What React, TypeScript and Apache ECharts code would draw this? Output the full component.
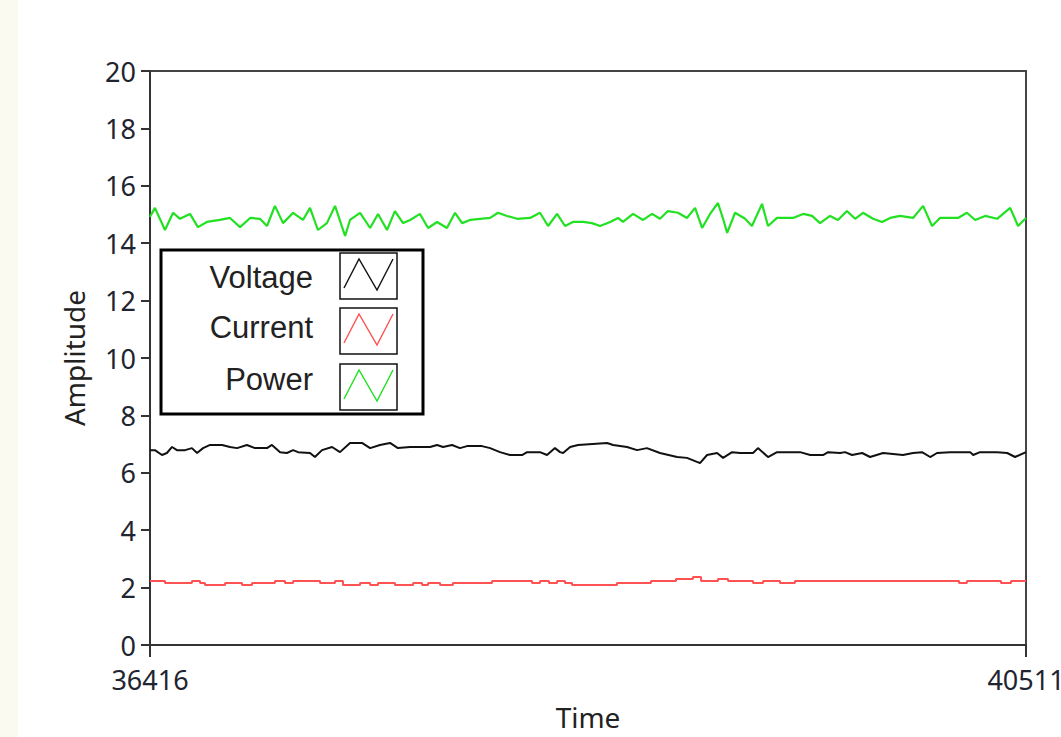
import React, { useEffect, useRef } from "react";
import * as echarts from "echarts";

const SERIES_NAMES = ["Voltage", "Current", "Power"];
const SERIES_COLORS = ["#111111", "#ff5252", "#22e022"];
const X_TICKS = [36416, 40511];
const Y_MIN = 0;
const Y_MAX = 20;
const Y_STEP = 2;

const POWER: [number, number][] = [
  [36416, 14.92], [36439, 15.23], [36486, 14.46], [36524, 15.06], [36556, 14.85],
  [36603, 15.02], [36640, 14.56], [36682, 14.74], [36743, 14.81], [36790, 14.88],
  [36837, 14.56], [36884, 14.88], [36930, 14.85], [36963, 14.6], [37000, 15.3],
  [37038, 14.7], [37085, 15.06], [37131, 14.81], [37164, 15.23], [37201, 14.46],
  [37243, 14.7], [37281, 15.3], [37328, 14.25], [37351, 14.81], [37398, 15.06],
  [37445, 14.53], [37482, 15.02], [37524, 14.46], [37561, 15.12], [37599, 14.7],
  [37632, 14.81], [37678, 15.02], [37716, 14.53], [37758, 14.74], [37804, 14.53],
  [37842, 15.06], [37875, 14.7], [37912, 14.81], [37959, 14.85], [38006, 14.88],
  [38043, 15.06], [38085, 14.95], [38132, 14.85], [38193, 14.88], [38239, 15.06],
  [38277, 14.6], [38319, 15.02], [38356, 14.6], [38393, 14.74], [38440, 14.74],
  [38482, 14.7], [38520, 14.6], [38567, 14.74], [38604, 14.88], [38627, 14.74],
  [38674, 15.02], [38721, 14.81], [38763, 15.02], [38800, 14.85], [38837, 15.12],
  [38884, 15.06], [38926, 14.88], [38964, 15.23], [38997, 14.53], [39034, 15.02],
  [39071, 15.4], [39095, 14.85], [39114, 14.36], [39151, 15.06], [39198, 14.85],
  [39230, 14.6], [39277, 15.37], [39305, 14.6], [39347, 14.88], [39422, 14.88],
  [39469, 15.02], [39511, 14.95], [39548, 14.7], [39595, 14.95], [39632, 14.81],
  [39674, 15.12], [39712, 14.85], [39749, 15.06], [39796, 14.85], [39838, 14.74],
  [39876, 14.88], [39922, 14.95], [39983, 14.88], [40030, 15.3], [40072, 14.6],
  [40109, 14.88], [40156, 14.88], [40193, 14.88], [40235, 15.06], [40273, 14.81],
  [40320, 14.95], [40376, 14.85], [40437, 15.23], [40474, 14.6], [40511, 14.88],
];

const VOLTAGE: [number, number][] = [
  [36416, 6.79], [36439, 6.79], [36472, 6.62], [36495, 6.69], [36519, 6.9],
  [36542, 6.79], [36580, 6.79], [36612, 6.86], [36636, 6.69], [36664, 6.86],
  [36697, 6.97], [36753, 6.97], [36790, 6.9], [36823, 6.86], [36869, 6.97],
  [36907, 6.86], [36963, 6.86], [36986, 6.97], [37024, 6.72], [37056, 6.69],
  [37085, 6.79], [37108, 6.72], [37164, 6.69], [37187, 6.55], [37220, 6.79],
  [37267, 6.9], [37304, 6.72], [37351, 7.04], [37407, 7.04], [37445, 6.86],
  [37491, 6.97], [37538, 7.04], [37575, 6.86], [37632, 6.9], [37692, 6.9],
  [37725, 6.9], [37758, 6.97], [37786, 6.9], [37828, 6.97], [37865, 6.86],
  [37898, 6.93], [37968, 6.93], [38006, 6.86], [38052, 6.72], [38099, 6.62],
  [38155, 6.62], [38179, 6.72], [38239, 6.72], [38272, 6.62], [38309, 6.86],
  [38333, 6.72], [38347, 6.69], [38380, 6.9], [38417, 6.97], [38553, 7.04],
  [38581, 6.97], [38646, 6.9], [38693, 6.79], [38739, 6.86], [38800, 6.69],
  [38880, 6.55], [38926, 6.52], [38973, 6.38], [38987, 6.34], [39020, 6.62],
  [39067, 6.69], [39095, 6.52], [39137, 6.72], [39174, 6.69], [39235, 6.69],
  [39258, 6.86], [39305, 6.55], [39347, 6.72], [39455, 6.72], [39502, 6.62],
  [39562, 6.62], [39586, 6.72], [39642, 6.69], [39665, 6.72], [39698, 6.62],
  [39745, 6.69], [39782, 6.55], [39843, 6.69], [39936, 6.62], [39983, 6.69],
  [40025, 6.72], [40063, 6.55], [40095, 6.69], [40156, 6.72], [40250, 6.72],
  [40264, 6.62], [40296, 6.72], [40376, 6.72], [40423, 6.69], [40460, 6.55],
  [40511, 6.72],
];

const CURRENT: [number, number][] = [
  [36416, 2.23], [36486, 2.16], [36612, 2.23], [36650, 2.16], [36673, 2.09],
  [36767, 2.16], [36846, 2.09], [36893, 2.16], [37000, 2.23], [37047, 2.16],
  [37085, 2.23], [37211, 2.16], [37281, 2.23], [37318, 2.09], [37398, 2.16],
  [37445, 2.09], [37482, 2.16], [37561, 2.09], [37646, 2.16], [37688, 2.09],
  [37716, 2.16], [37772, 2.09], [37832, 2.16], [38015, 2.23], [38202, 2.16],
  [38239, 2.23], [38281, 2.16], [38319, 2.23], [38356, 2.16], [38389, 2.09],
  [38599, 2.16], [38758, 2.23], [38875, 2.3], [38954, 2.37], [38992, 2.23],
  [39071, 2.3], [39118, 2.23], [39235, 2.16], [39282, 2.23], [39361, 2.16],
  [39431, 2.23], [40198, 2.16], [40235, 2.23], [40394, 2.16], [40441, 2.23],
  [40511, 2.23],
];

const SERIES_DATA = [VOLTAGE, CURRENT, POWER];

function legendGraphic() {
  const left = 161;
  const top = 250;
  const boxTops = [253, 308, 364];
  const textYs = [277, 327, 379];
  const children: any[] = [
    {
      type: "rect",
      shape: { x: left, y: top, width: 262, height: 164 },
      style: { fill: "#ffffff", stroke: "#000000", lineWidth: 3 },
    },
  ];
  SERIES_NAMES.forEach((name, i) => {
    const by = boxTops[i];
    children.push({
      type: "text",
      x: 313,
      y: textYs[i],
      style: {
        text: name,
        fill: "#222222",
        font: '31px "Liberation Sans", Arial, sans-serif',
        textAlign: "right",
        textVerticalAlign: "middle",
      },
    });
    children.push({
      type: "rect",
      shape: { x: 340, y: by, width: 57, height: 46 },
      style: { fill: "#ffffff", stroke: "#111111", lineWidth: 1.5 },
    });
    children.push({
      type: "polyline",
      shape: {
        points: [
          [344, by + 35],
          [359, by + 6],
          [377, by + 37],
          [393, by + 6],
        ],
      },
      style: { stroke: SERIES_COLORS[i], lineWidth: 1.4, fill: "none" },
    });
  });
  return children;
}

export default function App() {
  const ref = useRef<HTMLDivElement>(null);
  useEffect(() => {
    if (!ref.current) return;
    const chart = echarts.init(ref.current, undefined, { renderer: "svg" });
    const tickFont = '"Noto Sans", "Open Sans", sans-serif';
    chart.setOption({
      animation: false,
      backgroundColor: "#ffffff",
      grid: {
        left: 150,
        top: 71,
        width: 876,
        height: 574,
        outerBoundsMode: "none",
        containLabel: false,
        show: true,
        borderColor: "#444444",
        borderWidth: 2,
        backgroundColor: "#ffffff",
      },
      xAxis: {
        type: "value",
        min: X_TICKS[0],
        max: X_TICKS[X_TICKS.length - 1],
        name: "Time",
        nameLocation: "middle",
        nameGap: 58,
        nameTextStyle: { fontSize: 28, color: "#222222", fontFamily: tickFont },
        axisLine: { show: true, lineStyle: { color: "#333333", width: 2 } },
        axisTick: {
          show: true,
          customValues: X_TICKS,
          length: 12,
          inside: false,
          lineStyle: { color: "#333333", width: 2 },
        },
        axisLabel: {
          customValues: X_TICKS,
          margin: 21,
          fontSize: 27,
          color: "#1f2530",
          fontFamily: tickFont,
          showMinLabel: true,
          showMaxLabel: true,
          formatter: (v: number) => String(v),
        },
        splitLine: { show: false },
      },
      yAxis: {
        type: "value",
        min: Y_MIN,
        max: Y_MAX,
        interval: Y_STEP,
        name: "Amplitude",
        nameLocation: "middle",
        nameGap: 62,
        nameTextStyle: { fontSize: 28, color: "#222222", fontFamily: tickFont },
        axisLine: { show: true, lineStyle: { color: "#333333", width: 2 } },
        axisTick: {
          show: true,
          length: 9,
          lineStyle: { color: "#333333", width: 2 },
        },
        axisLabel: {
          margin: 14,
          fontSize: 27,
          color: "#1f2530",
          fontFamily: tickFont,
        },
        splitLine: { show: false },
      },
      series: SERIES_NAMES.map((name, i) => ({
        name,
        type: "line",
        data: SERIES_DATA[i],
        showSymbol: false,
        symbol: "none",
        step: name === "Current" ? "end" : false,
        lineStyle: { color: SERIES_COLORS[i], width: name === "Power" ? 2.2 : 2 },
        z: 3,
      })),
      graphic: [
        {
          type: "rect",
          shape: { x: 0, y: 0, width: 18, height: 737 },
          style: { fill: "#fafaf1" },
          silent: true,
        },
        { type: "group", children: legendGraphic() },
      ],
    });
    return () => chart.dispose();
  }, []);
  return (
    <div
      ref={ref}
      style={{ position: "absolute", left: 0, top: 0, width: 1061, height: 737 }}
    />
  );
}
